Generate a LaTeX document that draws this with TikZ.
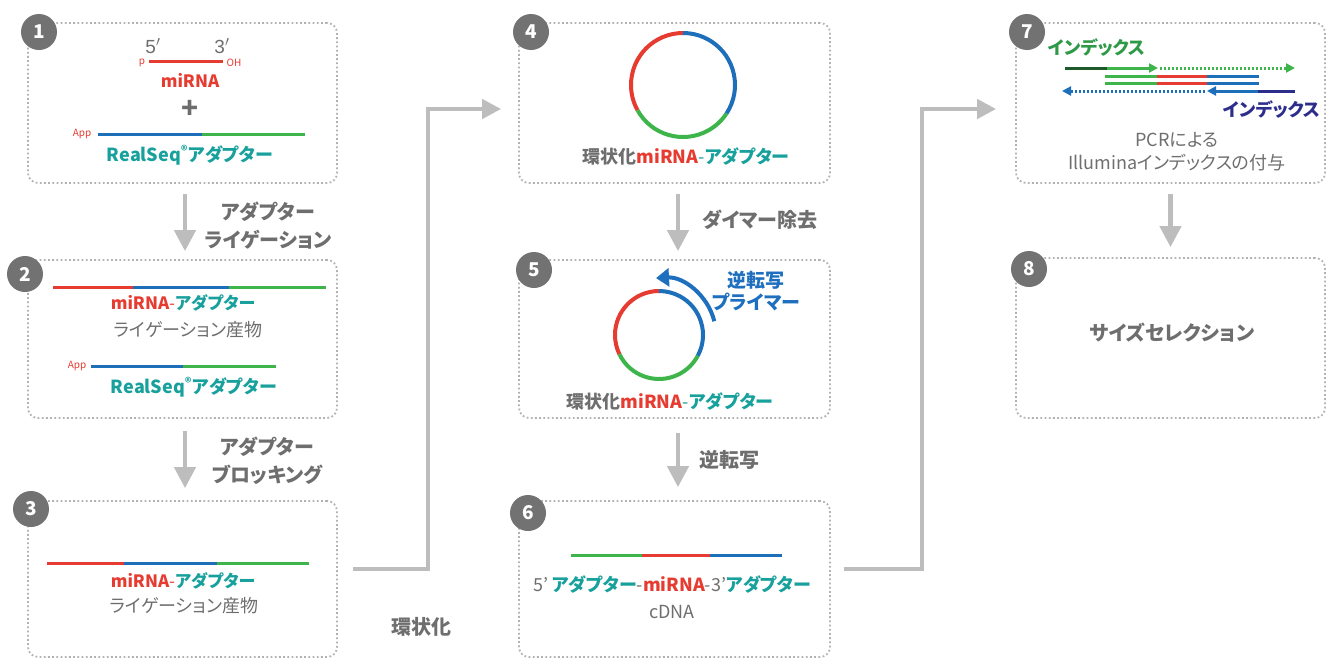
\documentclass[tikz,border=0pt]{standalone}
\usepackage{fontspec}
\setmainfont{Noto Sans CJK JP}[RawFeature={+palt}]
\newfontfamily\thinfont{Liberation Sans}
\usetikzlibrary{arrows.meta,calc}

\definecolor{mired}{HTML}{E63B30}
\definecolor{adblue}{HTML}{1D6FBA}
\definecolor{adgreen}{HTML}{3DB54A}
\definecolor{adteal}{HTML}{17A09C}
\definecolor{txtgray}{HTML}{6E6E6E}
\definecolor{numgray}{HTML}{727272}
\definecolor{framegray}{HTML}{B2B2B2}
\definecolor{flowgray}{HTML}{BDBDBD}
\definecolor{idxgreen}{HTML}{2E9A48}
\definecolor{idxdark}{HTML}{1E5A2C}
\definecolor{idxnavy}{HTML}{2D2D8C}
\definecolor{rtblue}{HTML}{1F6FBF}

\newcommand{\fs}[1]{\fontsize{#1}{#1}\selectfont}
\newcommand{\mi}{{\bfseries\color{mired}miRNA}}
\newcommand{\ad}{{\bfseries\color{adteal}アダプター}}

\begin{document}
\begin{tikzpicture}[x=1pt,y=-1pt,
  stepframe/.style={draw=framegray, line width=1.8pt, dash pattern=on 1.8pt off 2.4pt,
    rounded corners=10pt, inner sep=0pt},
  numdot/.style={circle, fill=numgray, text=white, minimum size=36pt, inner sep=0pt,
    font=\fs{19}\bfseries},
  strand/.style={line width=3pt},
  ring/.style={line width=4pt},
  flowarrow/.style={draw=flowgray, line width=4.5pt, -{Triangle[length=21pt,width=21pt]}},
  elbowarrow/.style={draw=flowgray, line width=4.5pt, -{Triangle[length=19pt,width=19pt]}},
  steplabel/.style={inner sep=0pt, text=txtgray, font=\fs{20}\bfseries},
  body/.style={inner sep=0pt, text=txtgray, font=\fs{18}},
  tag/.style={inner sep=0pt, text=mired, font=\fs{10}},
  smallhead/.style={-{Triangle[length=9pt,width=9pt]}},
  dots/.style={dash pattern=on 2pt off 2pt}
]
\useasboundingbox (0,0) rectangle (1331,659);

% ---------- step frames ----------
\node[stepframe, minimum width=309pt, minimum height=160pt] (b1) at (182.5,103) {};
\node[stepframe, minimum width=309pt, minimum height=158pt] (b2) at (182.5,339) {};
\node[stepframe, minimum width=309pt, minimum height=156pt] (b3) at (182.5,579) {};
\node[stepframe, minimum width=311pt, minimum height=160pt] (b4) at (674.5,103) {};
\node[stepframe, minimum width=311pt, minimum height=158pt] (b5) at (674.5,339) {};
\node[stepframe, minimum width=311pt, minimum height=156pt] (b6) at (674.5,579) {};
\node[stepframe, minimum width=309pt, minimum height=160pt] (b7) at (1170.5,103) {};
\node[stepframe, minimum width=309pt, minimum height=160pt] (b8) at (1170.5,338) {};

% ---------- step numbers ----------
\node[numdot] (n1) at (39,32) {1};
\node[numdot] (n2) at (25,274) {2};
\node[numdot] (n3) at (31,509) {3};
\node[numdot] (n4) at (531,32) {4};
\node[numdot] (n5) at (534,270) {5};
\node[numdot] (n6) at (528,513) {6};
\node[numdot] (n7) at (1027,32) {7};
\node[numdot] (n8) at (1029,269) {8};

% ---------- flow arrows ----------
\draw[flowarrow, shorten <=10pt, shorten >=8pt] ([xshift=2.5pt]b1.south) -- ([xshift=2.5pt]b2.north);
\draw[flowarrow, shorten <=12pt, shorten >=12pt] ([xshift=2.5pt]b2.south) -- ([xshift=2.5pt]b3.north);
\draw[flowarrow, shorten <=10pt, shorten >=8pt] ([xshift=3.5pt]b4.south) -- ([xshift=3.5pt]b5.north);
\draw[flowarrow, shorten <=14pt, shorten >=13pt] ([xshift=3.5pt]b5.south) -- ([xshift=3.5pt]b6.north);
\draw[flowarrow, shorten <=10pt, shorten >=10pt] (b7.south) -- (b8.north);

\draw[elbowarrow] ([shift={(15,-10)}]b3.east) -| ($(b4.west)+(-90,6)$) -- ([shift={(-17,6)}]b4.west);
\draw[elbowarrow] ([shift={(13,-10)}]b6.east) -| ($(b7.west)+(-93,6)$) -- ([shift={(-19,6)}]b7.west);

\node[steplabel] (l1a) at (268,212) {アダプター};
\node[steplabel] (l1b) at (268,240) {ライゲーション};
\node[steplabel] (l2a) at (267,447) {アダプター};
\node[steplabel] (l2b) at (267,475) {ブロッキング};
\node[steplabel] (l3) at (421,627) {環状化};
\node[steplabel] (l4) at (760,220) {ダイマー除去};
\node[steplabel] (l5) at (729,460) {逆転写};

% ---------- step 1 ----------
\node[inner sep=0pt, text=txtgray, font=\thinfont\fs{19}] (p1five) at (153,46) {5$'$};
\node[inner sep=0pt, text=txtgray, font=\thinfont\fs{19}] (p1three) at (222,46) {3$'$};
\draw[strand, mired] (149,61) -- (223,61);
\node[tag] (p1p) at (142,63) {p};
\node[tag] (p1oh) at (234,63) {OH};
\node[inner sep=0pt, font=\fs{17}] (p1mi) at (190,80) {\mi};
\node[inner sep=0pt, text=txtgray, font=\fs{28}\bfseries] (p1plus) at (190,109) {+};
\node[tag] (p1app) at (82,134) {App};
\draw[strand, adblue] (98,134) -- (202,134);
\draw[strand, adgreen] (202,134) -- (305,134);
\node[inner sep=0pt, text=adteal, font=\fs{18}\bfseries] (p1rs) at (190,155) {RealSeq\textsuperscript{®}アダプター};

% ---------- step 2 ----------
\draw[strand, mired] (53,287) -- (133,287);
\draw[strand, adblue] (133,287) -- (229,287);
\draw[strand, adgreen] (229,287) -- (326,287);
\node[inner sep=0pt, font=\fs{17}] (p2mi) at (183,303) {\mi{\color{mired}-}\ad};
\node[body] (p2lig) at (188,330) {ライゲーション産物};
\node[tag] (p2app) at (77,366) {App};
\draw[strand, adblue] (91,366) -- (183,366);
\draw[strand, adgreen] (183,366) -- (276,366);
\node[inner sep=0pt, text=adteal, font=\fs{18}\bfseries] (p2rs) at (194,387) {RealSeq\textsuperscript{®}アダプター};

% ---------- step 3 ----------
\draw[strand, mired] (47,563) -- (124,563);
\draw[strand, adblue] (124,563) -- (217,563);
\draw[strand, adgreen] (217,563) -- (309,563);
\node[inner sep=0pt, font=\fs{17}] (p3mi) at (183,581) {\mi{\color{mired}-}\ad};
\node[body] (p3lig) at (184,606) {ライゲーション産物};

% ---------- step 4 ----------
\coordinate (c4) at (683,85);
\draw[ring, mired] ([shift={(-90:52)}]c4) arc[start angle=-90, end angle=-209, radius=52];
\draw[ring, adgreen] ([shift={(-209:52)}]c4) arc[start angle=-209, end angle=-327, radius=52];
\draw[ring, adblue] ([shift={(-327:52)}]c4) arc[start angle=-327, end angle=-450, radius=52];
\node[inner sep=0pt, font=\fs{18}] (p4t) at (686,157) {{\bfseries\color{txtgray}環状化}\mi{\color{adteal}-}\ad};

% ---------- step 5 ----------
\coordinate (c5) at (659,335);
\draw[ring, mired] ([shift={(-90:44)}]c5) arc[start angle=-90, end angle=-206, radius=44];
\draw[ring, adgreen] ([shift={(-206:44)}]c5) arc[start angle=-206, end angle=-332, radius=44];
\draw[ring, adblue] ([shift={(-332:44)}]c5) arc[start angle=-332, end angle=-450, radius=44];
\draw[ring, rtblue, -{Triangle[length=13pt,width=18pt]}] ([shift={(-14:57)}]c5) arc[start angle=-14, end angle=-93, radius=57];
\node[inner sep=0pt, text=rtblue, font=\fs{19}\bfseries] (p5rt) at (756,280) {逆転写};
\node[inner sep=0pt, text=rtblue, font=\fs{19}\bfseries] (p5pr) at (756,302) {プライマー};
\node[inner sep=0pt, font=\fs{18}] (p5t) at (670,402) {{\bfseries\color{txtgray}環状化}\mi{\color{adteal}-}\ad};

% ---------- step 6 ----------
\draw[strand, adgreen] (571,555) -- (642,555);
\draw[strand, mired] (642,555) -- (710,555);
\draw[strand, adblue] (710,555) -- (782,555);
\node[inner sep=0pt, font=\fs{18}] (p6t) at (672,585) {{\color{txtgray}5'} \ad{\color{txtgray}-}\mi{\color{txtgray}-3'}\ad};
\node[body] (p6c) at (672,612) {cDNA};

% ---------- step 7 ----------
\node[inner sep=0pt, text=idxgreen, font=\fs{18}\bfseries] (p7i1) at (1097,48) {インデックス};
\draw[strand, idxdark] (1065,68) -- (1107,68);
\draw[strand, adgreen, smallhead] (1107,68) -- (1158,68);
\draw[strand, adgreen, dots, smallhead] (1160,68) -- (1295,68);
\draw[strand, adgreen] (1105,76) -- (1157,76);
\draw[strand, mired] (1157,76) -- (1207,76);
\draw[strand, adblue] (1207,76) -- (1259,76);
\draw[strand, adgreen] (1105,83) -- (1157,83);
\draw[strand, mired] (1157,83) -- (1207,83);
\draw[strand, adblue] (1207,83) -- (1259,83);
\draw[strand, idxnavy] (1258,91) -- (1295,91);
\draw[strand, adblue, smallhead] (1258,91) -- (1207,91);
\draw[strand, adblue, dots, smallhead] (1205,91) -- (1062,91);
\node[inner sep=0pt, text=idxnavy, font=\fs{18}\bfseries] (p7i2) at (1272,110) {インデックス};
\node[body] (p7a) at (1177,140) {PCRによる};
\node[body] (p7b) at (1177,163) {Illuminaインデックスの付与};

% ---------- step 8 ----------
\node[steplabel] (p8t) at (1172,333) {サイズセレクション};
\end{tikzpicture}
\end{document}
